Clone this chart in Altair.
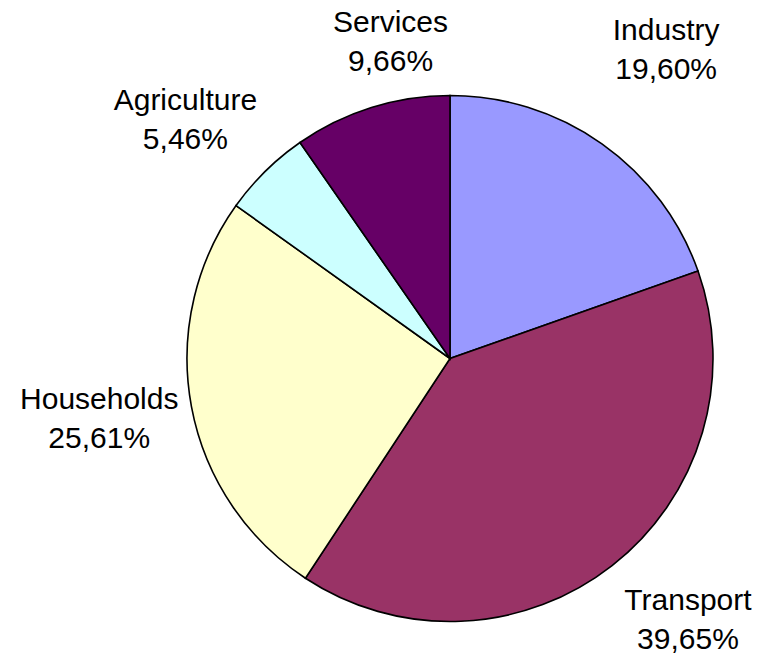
import math
import altair as alt
import pandas as pd

# Data (clockwise from 12 o'clock)
sectors = ["Industry", "Transport", "Households", "Agriculture", "Services"]
shares = [19.60, 39.65, 25.61, 5.46, 9.66]
colors = ["#9999FF", "#993366", "#FFFFCC", "#CCFFFF", "#660066"]

# Layout parameters for the outside labels
LABEL_RADIUS = [376, 354, 356, 356, 322]
LABEL_NUDGE_DEG = [-0.2, -4.2, 0.7, -3.4, 6.75]
PIE_RADIUS = 263
LINE_HEIGHT = 39

total = sum(shares)
rows = []
cum = 0.0
for i, (s, v) in enumerate(zip(sectors, shares)):
    mid = (cum + v / 2) / total * 2 * math.pi
    cum += v
    rows.append({
        "sector": s,
        "share": v,
        "order": i,
        "label": s + "\n" + f"{v:.2f}".replace(".", ",") + "%",
        "label_theta": mid + math.radians(LABEL_NUDGE_DEG[i]),
        "label_r": LABEL_RADIUS[i],
    })
df = pd.DataFrame(rows)

base = alt.Chart(df)

pie = base.mark_arc(radius=PIE_RADIUS, stroke="black", strokeWidth=1.6).encode(
    theta=alt.Theta("share:Q", stack=True),
    order=alt.Order("order:Q"),
    color=alt.Color("sector:N", scale=alt.Scale(domain=sectors, range=colors), legend=None),
)

labels = base.mark_text(
    font="Liberation Sans", fontSize=30, lineBreak="\n", lineHeight=LINE_HEIGHT,
    align="center", baseline="middle", color="black", dy=-LINE_HEIGHT / 2,
).encode(
    theta=alt.Theta("label_theta:Q", scale=None),
    radius=alt.Radius("label_r:Q", scale=None),
    text="label:N",
)

chart = alt.layer(pie, labels).properties(
    width=600, height=590,
    padding={"left": 150, "top": 63.5, "right": 10, "bottom": 1.5},
    autosize=alt.AutoSizeParams(type="none"),
    background="white",
).configure_view(stroke=None)

chart.save("out.html", embed_options={"renderer": "svg", "actions": False})
